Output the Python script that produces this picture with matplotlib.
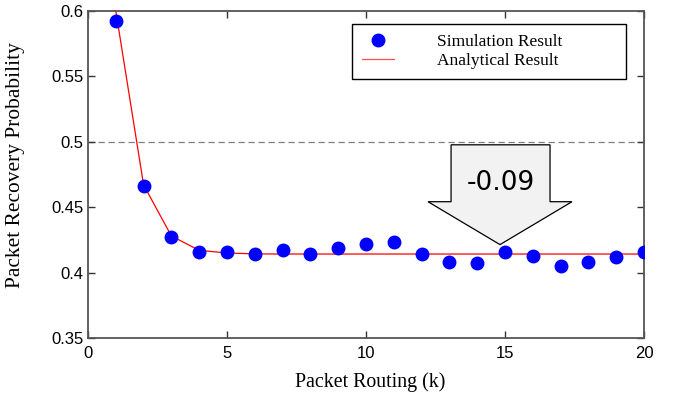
import matplotlib.pyplot as plt
from matplotlib.patches import Polygon
import numpy as np

# routing steps k
k = np.arange(1, 21)
# simulated recovery probability
sim = [0.592, 0.466, 0.4275, 0.416, 0.416, 0.4145, 0.417, 0.4145, 0.419, 0.422,
       0.4235, 0.4145, 0.4078, 0.407, 0.416, 0.413, 0.4047, 0.408, 0.412, 0.416]
# analytical recovery probability
ana = [0.600, 0.467, 0.428, 0.417, 0.415, 0.4143, 0.4142, 0.4142, 0.4142, 0.4142,
       0.4142, 0.4142, 0.4142, 0.4142, 0.4142, 0.4142, 0.4142, 0.4142, 0.4142, 0.4142]
baseline = 0.5
drop_label = '-0.09'

fig = plt.figure(figsize=(6.78, 3.94), dpi=100)
ax = fig.add_axes([88 / 678, 1 - 338 / 394, (644 - 88) / 678, (338 - 11) / 394])

ax.plot(k, sim, 'o', color='blue', ms=9, label='Simulation Result', zorder=4)
ax.plot(k, ana, '-', color='red', lw=0.9, label='Analytical Result', zorder=3)
ax.axhline(baseline, color='gray', lw=0.9, ls=(0, (5, 3)), zorder=1)

# block arrow showing the drop from the 0.5 baseline
arrow = Polygon([(13.06, 0.4977), (16.62, 0.4977), (16.62, 0.4542), (17.41, 0.4542),
                 (14.82, 0.4214), (12.23, 0.4542), (13.06, 0.4542)],
                closed=True, facecolor='#f2f2f2', edgecolor='black', lw=0.9, zorder=2)
ax.add_patch(arrow)
ax.text(14.84, 0.4687, drop_label, ha='center', va='center', fontsize=19,
        family='DejaVu Sans', zorder=5)

ax.set_xlim(0, 20)
ax.set_ylim(0.35, 0.6)
ax.set_xticks([0, 5, 10, 15, 20])
ax.set_yticks([0.35, 0.4, 0.45, 0.5, 0.55, 0.6])
ax.set_yticklabels(['0.35', '0.4', '0.45', '0.5', '0.55', '0.6'])
ax.tick_params(direction='in', length=5, width=1, top=True, right=True,
               labelsize=12, colors='#333333', labelcolor='black')
ax.tick_params(axis='x', pad=6)
for lab in ax.get_xticklabels() + ax.get_yticklabels():
    lab.set_family('Liberation Sans')
for s in ax.spines.values():
    s.set_color('#555555')
    s.set_linewidth(1.3)

ax.set_xlabel('Packet Routing (k)', family='Liberation Serif', fontsize=14.3)
ax.xaxis.set_label_coords(0.507, -0.106)
ax.set_ylabel('Packet Recovery Probability', family='Liberation Serif', fontsize=15.4)
ax.yaxis.set_label_coords(-0.113, 0.529)

leg = ax.legend(loc='upper left', bbox_to_anchor=(0.475, 0.0, 0.493, 0.960), mode='expand',
                fancybox=False, edgecolor='black', framealpha=1, handlelength=1.85,
                handletextpad=2.5, borderpad=0.55, labelspacing=0.2, borderaxespad=0,
                prop={'family': 'Liberation Serif', 'size': 12.5})
leg.get_frame().set_linewidth(1.0)
leg.legend_handles[1].set_alpha(0.7)

fig.savefig('out.png', dpi=100)
